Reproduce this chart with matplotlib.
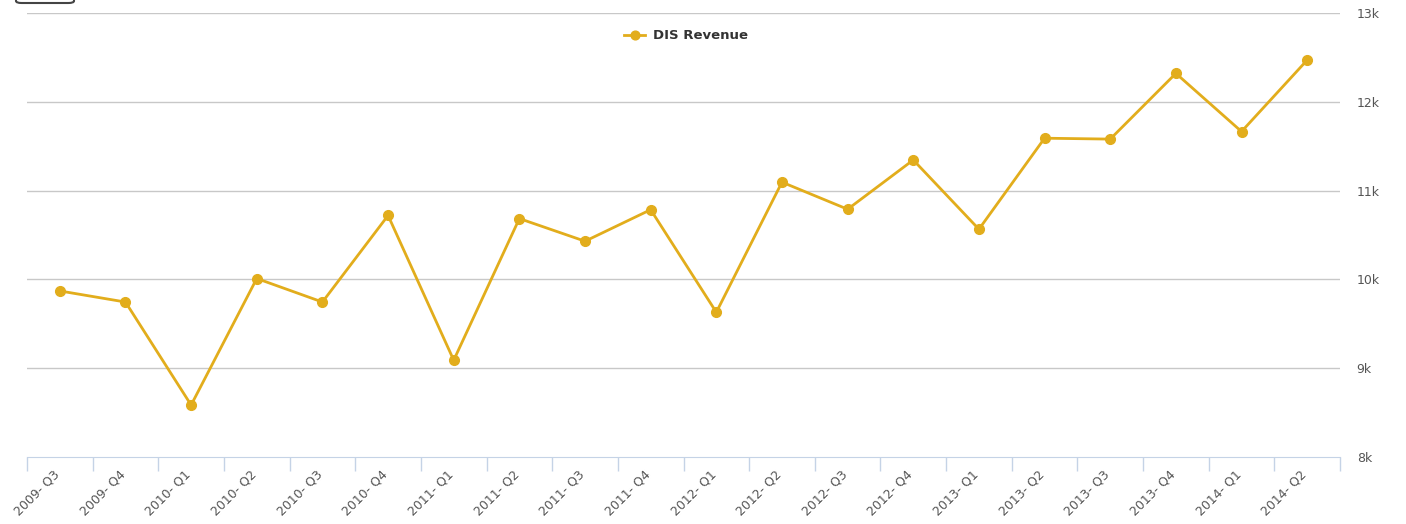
import matplotlib.pyplot as plt
import matplotlib.transforms as mtransforms
from matplotlib.patches import FancyBboxPatch

quarters = ["2009- Q3", "2009- Q4", "2010- Q1", "2010- Q2", "2010- Q3", "2010- Q4",
            "2011- Q1", "2011- Q2", "2011- Q3", "2011- Q4", "2012- Q1", "2012- Q2",
            "2012- Q3", "2012- Q4", "2013- Q1", "2013- Q2", "2013- Q3", "2013- Q4",
            "2014- Q1", "2014- Q2"]
revenue = [9870, 9745, 8585, 10010, 9745, 10720, 9090, 10685, 10430, 10785,
           9630, 11095, 10790, 11345, 10565, 11590, 11580, 12320, 11665, 12470]
y_ticks = [8000, 9000, 10000, 11000, 12000, 13000]
y_labels = ["8k", "9k", "10k", "11k", "12k", "13k"]

gold = "#E2AD1C"
W, H = 1406, 524
fig = plt.figure(figsize=(W / 100, H / 100), dpi=100)
ax = fig.add_axes([27 / W, 1 - 457 / H, (1340 - 27) / W, (457 - 13) / H])

x = [i + 0.5 for i in range(len(quarters))]
ax.plot(x, revenue, color=gold, lw=2, marker="o", ms=7, label="DIS Revenue")

ax.set_xlim(0, len(quarters))
ax.set_ylim(8000, 13000)
ax.set_yticks(y_ticks)
ax.set_yticklabels(y_labels)
ax.yaxis.tick_right()
ax.tick_params(axis="y", length=0, pad=12, labelsize=9, labelcolor="#555555")
for t in y_ticks[1:]:
    ax.axhline(t, color="#c8c8c8", lw=1, zorder=0)

ax.set_xticks(range(len(quarters) + 1))
ax.set_xticklabels([])
ax.set_xticks(x, minor=True)
ax.set_xticklabels(quarters, minor=True, rotation=45, ha="right", va="top",
                   rotation_mode="anchor", fontsize=9, color="#555555")
ax.tick_params(axis="x", which="major", length=10, color="#c5d3e6", width=1)
ax.tick_params(axis="x", which="minor", length=0, pad=8)
shift = mtransforms.ScaledTranslation(-7 / 100, 0, fig.dpi_scale_trans)
for lab in ax.get_xticklabels(minor=True):
    lab.set_transform(lab.get_transform() + shift)
for spine in ["top", "left", "right"]:
    ax.spines[spine].set_visible(False)
ax.spines["bottom"].set_color("#c5d3e6")

leg = ax.legend(loc="upper center", bbox_to_anchor=(0.502, 0.99), frameon=False,
                prop={"weight": "bold", "size": 9.5}, handlelength=1.6,
                handletextpad=0.6, markerscale=0.9)
for t in leg.get_texts():
    t.set_color("#333333")

# partial button at top-left corner
btn = FancyBboxPatch((16 / W, 1 - 3 / H), 58 / W, 12 / H,
                     boxstyle="round,pad=0,rounding_size=0.004",
                     transform=fig.transFigure, fc="white", ec="#444444", lw=1.5)
fig.add_artist(btn)

fig.savefig("out.png", dpi=100)
